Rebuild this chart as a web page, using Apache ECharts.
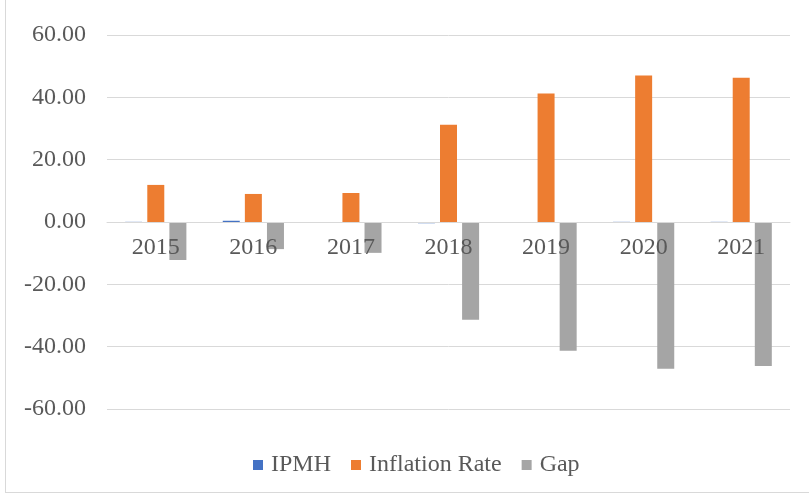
<!DOCTYPE html>
<html>
<head>
<meta charset="utf-8">
<script src="https://cdn.jsdelivr.net/npm/echarts@6/dist/echarts.min.js"></script>
<style>
  html, body { margin: 0; padding: 0; background: #fff; }
  #frame { position: absolute; left: 5px; top: -1px; width: 810px; height: 492px; border: 1px solid #d9d9d9; }
  #charts { position: absolute; left: 0; top: 0; width: 809px; height: 495px; }
</style>
</head>
<body>
<div id="frame"></div>
<div id="charts"></div>
<script>
// values
const years = ['2015', '2016', '2017', '2018', '2019', '2020', '2021']
const ipmh = [0.05, 0.4, -0.05, -0.4, -0.05, 0.05, 0.05]
const inflation = [11.9, 9.0, 9.3, 31.2, 41.2, 47.0, 46.3]
const gap = [-12.2, -8.7, -9.9, -31.4, -41.3, -47.1, -46.2]

const font = 'Liberation Serif'
const textColor = '#595959'

const myCharts = echarts.init(document.getElementById('charts'))
myCharts.setOption({
    animation: false,
    grid: { left: 107, right: 19, top: 35, bottom: 86 },
    legend: {
        top: 448,
        left: 248,
        itemWidth: 10,
        itemHeight: 10,
        itemGap: 20,
        icon: 'rect',
        textStyle: { fontFamily: font, fontSize: 24, color: textColor, padding: [0, 0, 0, 3] },
        data: ['IPMH', 'Inflation Rate', 'Gap']
    },
    xAxis: {
        type: 'category',
        data: years,
        z: 10,
        // zero sits at the middle of the grid (min -60, max 60)
        offset: -187,
        axisLine: { onZero: false, lineStyle: { color: '#d9d9d9', width: 1 } },
        axisTick: { show: false },
        axisLabel: { fontFamily: font, fontSize: 24, color: textColor, margin: 14 }
    },
    yAxis: {
        type: 'value',
        min: -60,
        max: 60,
        interval: 20,
        axisLine: { show: false },
        axisTick: { show: false },
        splitLine: { lineStyle: { color: '#d9d9d9', width: 1 } },
        axisLabel: {
            fontFamily: font, fontSize: 24, color: textColor, margin: 21,
            formatter: v => v.toFixed(2)
        }
    },
    series: [
        { name: 'IPMH', type: 'bar', data: ipmh, barWidth: 17, barGap: '30%', itemStyle: { color: '#4472C4' } },
        { name: 'Inflation Rate', type: 'bar', data: inflation, barWidth: 17, barGap: '30%', itemStyle: { color: '#ED7D31' } },
        { name: 'Gap', type: 'bar', data: gap, barWidth: 17, barGap: '30%', itemStyle: { color: '#A5A5A5' } }
    ]
})
</script>
</body>
</html>
